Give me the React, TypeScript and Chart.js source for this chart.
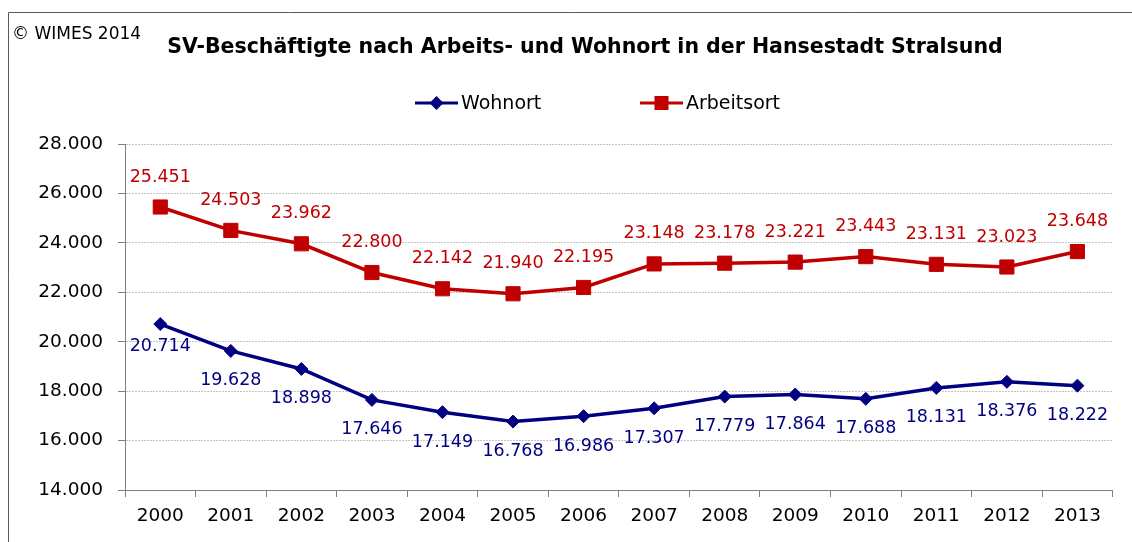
import React, { useEffect, useRef } from "react";
import { Chart, registerables } from "chart.js";

Chart.register(...registerables);

const years = ["2000", "2001", "2002", "2003", "2004", "2005", "2006", "2007", "2008", "2009", "2010", "2011", "2012", "2013"];
const wohnort = [20714, 19628, 18898, 17646, 17149, 16768, 16986, 17307, 17779, 17864, 17688, 18131, 18376, 18222];
const arbeitsort = [25451, 24503, 23962, 22800, 22142, 21940, 22195, 23148, 23178, 23221, 23443, 23131, 23023, 23648];
const yMin = 14000;
const yMax = 28000;
const yStep = 2000;
const titleText = "SV-Beschäftigte nach Arbeits- und Wohnort in der Hansestadt Stralsund";
const copyrightText = "© WIMES 2014";

const RED = "#C00000";
const NAVY = "#000080";
const FONT = "'DejaVu Sans', Verdana, sans-serif";

const fmt = (v: number) => v.toLocaleString("de-DE");

const decorPlugin = {
  id: "decor",
  beforeDraw(chart: any) {
    const ctx = chart.ctx;
    ctx.save();
    ctx.strokeStyle = "#5a5a5a";
    ctx.lineWidth = 1;
    ctx.beginPath();
    ctx.moveTo(8.5, 542);
    ctx.lineTo(8.5, 12.5);
    ctx.lineTo(1132, 12.5);
    ctx.stroke();
    ctx.restore();
  },
  afterDraw(chart: any) {
    const ctx = chart.ctx;
    ctx.save();
    // copyright
    ctx.fillStyle = "#000";
    ctx.font = `17px ${FONT}`;
    ctx.textAlign = "left";
    ctx.textBaseline = "middle";
    ctx.fillText(copyrightText, 12, 35);
    // title
    ctx.font = `bold 20.5px ${FONT}`;
    ctx.textAlign = "center";
    ctx.fillText(titleText, 585, 48);
    // legend
    const items = [
      { label: "Wohnort", color: NAVY, style: "rectRot", x: 415 },
      { label: "Arbeitsort", color: RED, style: "rect", x: 640 },
    ];
    const ly = 103;
    items.forEach((it) => {
      ctx.strokeStyle = it.color;
      ctx.lineWidth = 3;
      ctx.beginPath();
      ctx.moveTo(it.x, ly);
      ctx.lineTo(it.x + 43, ly);
      ctx.stroke();
      ctx.fillStyle = it.color;
      ctx.beginPath();
      if (it.style === "rect") {
        ctx.rect(it.x + 21.5 - 7, ly - 7, 14, 14);
      } else {
        ctx.moveTo(it.x + 21.5, ly - 7);
        ctx.lineTo(it.x + 28.5, ly);
        ctx.lineTo(it.x + 21.5, ly + 7);
        ctx.lineTo(it.x + 14.5, ly);
        ctx.closePath();
      }
      ctx.fill();
      ctx.fillStyle = "#000";
      ctx.font = `19px ${FONT}`;
      ctx.textAlign = "left";
      ctx.textBaseline = "middle";
      ctx.fillText(it.label, it.x + 46, ly + 1);
    });
    // data labels
    ctx.font = `17.5px ${FONT}`;
    ctx.textAlign = "center";
    ctx.textBaseline = "middle";
    chart.data.datasets.forEach((ds: any, di: number) => {
      const meta = chart.getDatasetMeta(di);
      ctx.fillStyle = ds.labelColor;
      meta.data.forEach((pt: any, i: number) => {
        let dy = ds.labelOffset;
        if (di === 0 && i === 0) dy = 22;
        ctx.fillText(fmt(ds.data[i]), pt.x, pt.y + dy);
      });
    });
    ctx.restore();
  },
};

export default function App() {
  const ref = useRef<HTMLCanvasElement>(null);
  useEffect(() => {
    if (!ref.current) return;
    const chart = new Chart(ref.current, {
      type: "line",
      data: {
        labels: years,
        datasets: [
          {
            label: "Wohnort",
            data: wohnort,
            borderColor: NAVY,
            backgroundColor: NAVY,
            borderWidth: 3.5,
            pointStyle: "rectRot",
            pointRadius: 6.5,
            pointBorderWidth: 1,
            tension: 0,
            labelColor: NAVY,
            labelOffset: 30,
          } as any,
          {
            label: "Arbeitsort",
            data: arbeitsort,
            borderColor: RED,
            backgroundColor: RED,
            borderWidth: 3.5,
            pointStyle: "rect",
            pointRadius: 10,
            pointBorderWidth: 1,
            tension: 0,
            labelColor: RED,
            labelOffset: -30,
          } as any,
        ],
      },
      options: {
        animation: false,
        responsive: false,
        maintainAspectRatio: false,
        layout: { padding: { top: 144, left: 0, right: 19.3, bottom: 0 } },
        plugins: {
          legend: { display: false },
          title: { display: false },
          tooltip: { enabled: false },
        },
        scales: {
          x: {
            type: "category",
            offset: true,
            afterFit: (s: any) => {
              s.height = 52;
            },
            grid: {
              offset: true,
              drawOnChartArea: false,
              drawTicks: true,
              tickLength: 7,
              tickColor: "#808080",
            },
            border: { color: "#808080", width: 1 },
            ticks: {
              color: "#000",
              font: { family: FONT, size: 18.5 },
              padding: 8,
              maxRotation: 0,
              autoSkip: false,
            },
          },
          y: {
            min: yMin,
            max: yMax,
            afterFit: (s: any) => {
              s.width = 125;
            },
            grid: {
              color: "#c4c4c4",
              drawTicks: true,
              tickLength: 7,
              tickColor: "#808080",
            },
            border: { color: "#808080", width: 1, dash: [2, 1] },
            ticks: {
              stepSize: yStep,
              color: "#000",
              font: { family: FONT, size: 18.5 },
              padding: 15,
              callback: (v: any) => fmt(Number(v)),
            },
          },
        },
      },
      plugins: [decorPlugin],
    });
    return () => chart.destroy();
  }, []);
  return (
    <div style={{ position: "absolute", left: 0, top: 0, width: 1132, height: 542, background: "#fff" }}>
      <canvas ref={ref} width={1132} height={542} style={{ width: 1132, height: 542, display: "block" }} />
    </div>
  );
}
